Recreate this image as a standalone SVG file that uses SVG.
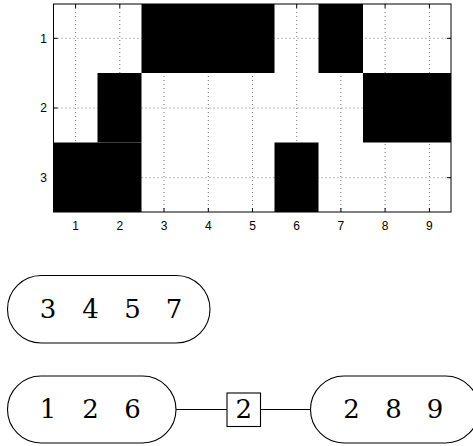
<svg xmlns="http://www.w3.org/2000/svg" width="473" height="446" viewBox="0 0 473 446">
<style>
.cell{fill:#000}
.grid{stroke:#777;stroke-width:1;stroke-dasharray:1 3;fill:none}
.tick{stroke:#000;stroke-width:1}
.ax{font-family:"Liberation Sans",Arial,sans-serif;font-size:12px;fill:#000}
.node{fill:#fff;stroke:#000;stroke-width:1.1}
.lbl{font-family:"DejaVu Serif","Liberation Serif",serif;font-size:26px;fill:#000;text-anchor:middle}
.edge{stroke:#000;stroke-width:1;fill:none}
</style>
<rect width="473" height="446" fill="#fff"/>
<g id="plot">
<rect x="53.5" y="4" width="397.5" height="208" fill="#fff"/>
<g id="grid">
<path class="grid" d="M75.6 4V212M119.8 4V212M164 4V212M208.3 4V212M252.5 4V212M296.7 4V212M340.9 4V212M385.1 4V212M429.4 4V212"/>
<path class="grid" d="M53.5 38.3H451M53.5 108H451M53.5 177.7H451"/>
</g>
<g id="cells">
<rect class="cell" x="141.5" y="4" width="133" height="69"/>
<rect class="cell" x="318.5" y="4" width="44.5" height="69"/>
<rect class="cell" x="97.5" y="73" width="44" height="69.5"/>
<rect class="cell" x="363" y="73" width="88" height="69.5"/>
<rect class="cell" x="53.5" y="142.5" width="88" height="69.5"/>
<rect class="cell" x="274.5" y="142.5" width="44" height="69.5"/>
</g>
<rect x="53.5" y="4" width="397.5" height="208" fill="none" stroke="#000" stroke-width="1"/>
<path class="tick" d="M75.6 4v4M119.8 4v4M164 4v4M208.3 4v4M252.5 4v4M296.7 4v4M340.9 4v4M385.1 4v4M429.4 4v4M75.6 212v-4M119.8 212v-4M164 212v-4M208.3 212v-4M252.5 212v-4M296.7 212v-4M340.9 212v-4M385.1 212v-4M429.4 212v-4M53.5 38.3h4M53.5 108h4M53.5 177.7h4M451 38.3h-4M451 108h-4M451 177.7h-4"/>
<g class="ax" text-anchor="end">
<text x="47" y="42.5">1</text>
<text x="47" y="112.2">2</text>
<text x="47" y="181.9">3</text>
</g>
<g class="ax" text-anchor="middle">
<text x="75.6" y="229.5">1</text>
<text x="119.8" y="229.5">2</text>
<text x="164" y="229.5">3</text>
<text x="208.3" y="229.5">4</text>
<text x="252.5" y="229.5">5</text>
<text x="296.7" y="229.5">6</text>
<text x="340.9" y="229.5">7</text>
<text x="385.1" y="229.5">8</text>
<text x="429.4" y="229.5">9</text>
</g>
</g>
<g id="connectors">
<path class="edge" d="M176 409.5H227M260.5 409.5H310.5"/>
</g>
<g id="node-3457">
<rect class="node" x="7.5" y="275.5" width="202.5" height="67.5" rx="33.75"/>
<text class="lbl" x="48" y="317.5">3</text>
<text class="lbl" x="90.5" y="317.5">4</text>
<text class="lbl" x="132.5" y="317.5">5</text>
<text class="lbl" x="174" y="317.5">7</text>
</g>
<g id="node-126">
<rect class="node" x="7.5" y="376" width="168.5" height="67" rx="33.5"/>
<text class="lbl" x="48" y="418">1</text>
<text class="lbl" x="90.5" y="418">2</text>
<text class="lbl" x="132.5" y="418">6</text>
</g>
<g id="node-sep">
<rect class="node" x="227" y="393" width="33.5" height="33.5"/>
<text class="lbl" x="243.7" y="418">2</text>
</g>
<g id="node-289">
<rect class="node" x="310.5" y="376" width="168.5" height="67" rx="33.5"/>
<text class="lbl" x="351.5" y="418">2</text>
<text class="lbl" x="393.5" y="418">8</text>
<text class="lbl" x="435" y="418">9</text>
</g>
</svg>
